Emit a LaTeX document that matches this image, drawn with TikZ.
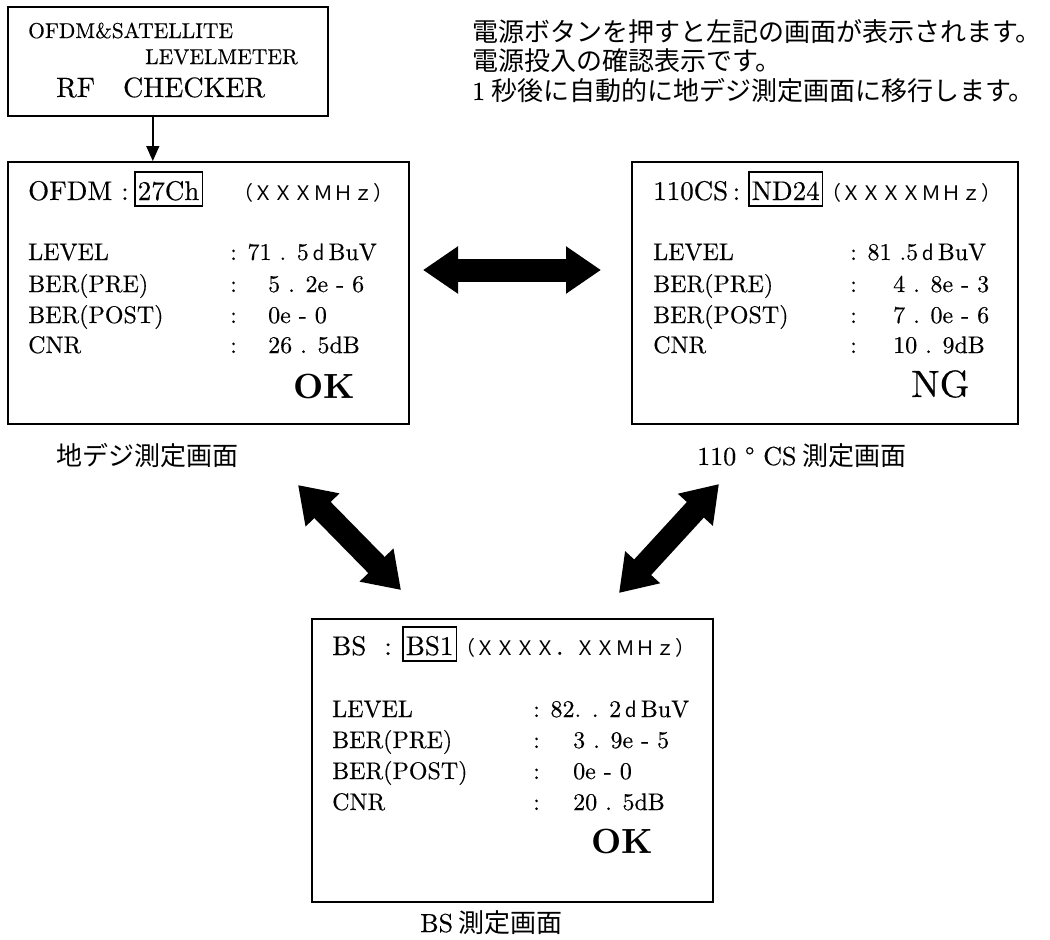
\documentclass[tikz,border=0pt]{standalone}
\usepackage{fontspec}
\setmainfont{lmroman10-regular.otf}[BoldFont=lmroman10-bold.otf, UprightFeatures={FakeBold=0.4}]
\newfontfamily\jp{Noto Sans CJK JP}
\usepackage{tikz}
\usetikzlibrary{arrows.meta}

\begin{document}
\begin{tikzpicture}[x=1pt, y=-1pt,
    screen/.style={draw, line width=1.6pt, rectangle, anchor=north west, inner sep=0pt},
    txt/.style={anchor=base west, inner sep=0pt},
    row/.style={txt, font=\fontsize{24}{28}\selectfont},
    head/.style={txt, font=\fontsize{27}{30}\selectfont},
    chbox/.style={head, draw, line width=1.6pt, inner xsep=3pt, text height=28pt, text depth=6pt},
    freq/.style={txt, font=\jp\fontsize{20}{24}\selectfont},
    verdict/.style={txt, font=\bfseries\fontsize{35}{40}\selectfont},
    jtxt/.style={txt, font=\jp\fontsize{26}{30}\selectfont},
    fatarrow/.style={line width=23pt, {Triangle[length=35pt,width=45pt]}-{Triangle[length=35pt,width=45pt]}}]
    \useasboundingbox (0, 0) rectangle (1050, 940);

    % Nodes
    \node[screen, minimum width=320pt, minimum height=109pt] (boot) at (7, 6) {};
    \node[txt, font=\fontsize{21.5}{24}\selectfont] (bootA) at (28, 38) {OFDM\&SATELLITE};
    \node[txt, font=\fontsize{21.5}{24}\selectfont] (bootB) at (145, 64) {LEVELMETER};
    \node[txt, font=\fontsize{28}{32}\selectfont] (bootC) at (56, 97) {RF\quad CHECKER};

    \node[jtxt] (note1) at (472, 41) {電源ボタンを押すと左記の画面が表示されます。};
    \node[jtxt] (note2) at (472, 70) {電源投入の確認表示です。};
    \node[jtxt] (note3) at (472, 100) {{\rmfamily 1} 秒後に自動的に地デジ測定画面に移行します。};

    % OFDM screen
    \node[screen, minimum width=401pt, minimum height=262pt] (ofdm) at (7, 161) {};
    \node[head] (ofdmT) at (28, 200) {OFDM :};
    \node[chbox] (ofdmCh) at (134, 200) {27Ch};
    \node[freq] (ofdmF) at (233, 200) {（ＸＸＸＭＨｚ）};
    \node[row] (ofdmL1) at (28, 260) {LEVEL};
    \node[row] (ofdmL2) at (28, 292) {BER(PRE)};
    \node[row] (ofdmL3) at (28, 323) {BER(POST)};
    \node[row] (ofdmL4) at (28, 353) {CNR};
    \node[row] (ofdmV1) at (230, 260) {: 71 . 5\,{\sffamily d}\,BuV};
    \node[row] (ofdmC2) at (230, 292) {:};
    \node[row] (ofdmC3) at (230, 323) {:};
    \node[row] (ofdmC4) at (230, 353) {:};
    \node[row] (ofdmV2) at (268, 292) {5 . 2e - 6};
    \node[row] (ofdmV3) at (268, 323) {0e - 0};
    \node[row] (ofdmV4) at (268, 353) {26 . 5dB};
    \node[verdict] (ofdmOK) at (293, 398) {OK};
    \node[jtxt] (ofdmCap) at (56, 465) {地デジ測定画面};

    % 110CS screen
    \node[screen, minimum width=386pt, minimum height=262pt] (cs) at (631, 161) {};
    \node[head] (csT) at (653, 200) {110CS\,:};
    \node[chbox] (csCh) at (748, 200) {ND24};
    \node[freq] (csF) at (821, 200) {（ＸＸＸＸＭＨｚ）};
    \node[row] (csL1) at (653, 260) {LEVEL};
    \node[row] (csL2) at (653, 292) {BER(PRE)};
    \node[row] (csL3) at (653, 323) {BER(POST)};
    \node[row] (csL4) at (653, 353) {CNR};
    \node[row] (csV1) at (850, 260) {: 81 .5\,{\sffamily d}\,BuV};
    \node[row] (csC2) at (850, 292) {:};
    \node[row] (csC3) at (850, 323) {:};
    \node[row] (csC4) at (850, 353) {:};
    \node[row] (csV2) at (893, 292) {4 . 8e - 3};
    \node[row] (csV3) at (893, 323) {7 . 0e - 6};
    \node[row] (csV4) at (893, 353) {10 . 9dB};
    \node[verdict, font=\fontsize{38}{42}\selectfont] (csNG) at (911, 397) {NG};
    \node[jtxt] (csCap) at (697, 465) {{\rmfamily 110 ° CS} 測定画面};

    % BS screen
    \node[screen, minimum width=401pt, minimum height=283pt] (bs) at (311, 618) {};
    \node[head] (bsT) at (332, 655) {BS~~:};
    \node[chbox] (bsCh) at (402, 655) {BS1};
    \node[freq] (bsF) at (455, 655) {（ＸＸＸＸ．ＸＸＭＨｚ）};
    \node[row] (bsL1) at (332, 717) {LEVEL};
    \node[row] (bsL2) at (332, 748) {BER(PRE)};
    \node[row] (bsL3) at (332, 779) {BER(POST)};
    \node[row] (bsL4) at (332, 810) {CNR};
    \node[row] (bsV1) at (533, 717) {: 82. . 2\,{\sffamily d}\,BuV};
    \node[row] (bsC2) at (533, 748) {:};
    \node[row] (bsC3) at (533, 779) {:};
    \node[row] (bsC4) at (533, 810) {:};
    \node[row] (bsV2) at (573, 748) {3 . 9e - 5};
    \node[row] (bsV3) at (573, 779) {0e - 0};
    \node[row] (bsV4) at (573, 810) {20 . 5dB};
    \node[verdict] (bsOK) at (591, 853) {OK};
    \node[jtxt] (bsCap) at (420, 932) {{\rmfamily BS} 測定画面};

    % arrow ends
    \coordinate (hL) at (423, 270);
    \coordinate (hR) at (601, 270);
    \coordinate (dL1) at (298, 485);
    \coordinate (dL2) at (401, 590);
    \coordinate (dR1) at (719, 484);
    \coordinate (dR2) at (619, 593);

    % Edges
    \draw[-{Triangle[length=15pt,width=13pt]}, line width=1.5pt] ([xshift=-15pt]boot.south) -- ([xshift=-15pt]boot.south |- ofdm.north);
    \draw[fatarrow] (hL) -- (hR);
    \draw[fatarrow] (dL1) -- (dL2);
    \draw[fatarrow] (dR1) -- (dR2);
\end{tikzpicture}
\end{document}
